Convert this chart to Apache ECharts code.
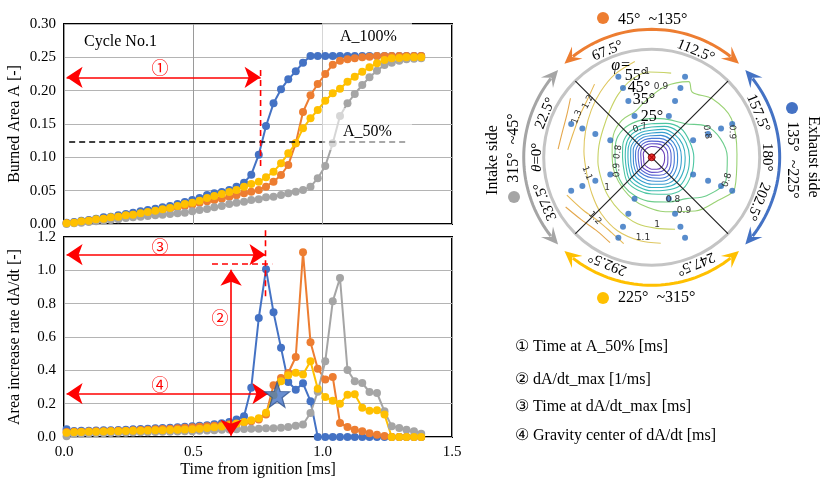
<!DOCTYPE html>
<html>
<head>
<meta charset="utf-8">
<script src="https://cdn.jsdelivr.net/npm/echarts@6/dist/echarts.min.js"></script>
<style>
html, body { margin: 0; padding: 0; background: #fff; }
#main { width: 820px; height: 480px; }
</style>
</head>
<body>
<div id="main"></div>
<script>
// sample times (ms)
var timeMs = [0.010,0.039,0.067,0.096,0.124,0.153,0.181,0.210,0.239,0.267,0.296,0.324,0.353,0.381,0.410,0.439,0.467,0.496,0.524,0.553,0.581,0.610,0.639,0.667,0.696,0.724,0.753,0.781,0.810,0.839,0.867,0.896,0.924,0.953,0.981,1.010,1.039,1.067,1.096,1.124,1.153,1.181,1.210,1.239,1.267,1.296,1.324,1.353,1.381];

// burned area A [-]
var areaBlue = [0.002,0.003,0.005,0.006,0.008,0.010,0.011,0.013,0.015,0.017,0.019,0.021,0.023,0.025,0.027,0.030,0.033,0.036,0.039,0.0435,0.046,0.048,0.051,0.056,0.062,0.074,0.104,0.147,0.181,0.202,0.217,0.229,0.242,0.252,0.252,0.252,0.252,0.252,0.252,0.252,0.252,0.252,0.252,0.252,0.252,0.252,0.252,0.252,0.252];
var areaOrange = [0.001,0.002,0.003,0.005,0.006,0.008,0.009,0.011,0.012,0.014,0.015,0.017,0.019,0.021,0.023,0.025,0.027,0.029,0.032,0.034,0.036,0.038,0.041,0.043,0.046,0.0485,0.051,0.056,0.0635,0.0735,0.0885,0.121,0.168,0.193,0.210,0.225,0.239,0.245,0.247,0.2485,0.250,0.251,0.252,0.252,0.252,0.252,0.252,0.252,0.252];
var areaGray = [0.000,0.001,0.002,0.003,0.004,0.005,0.006,0.007,0.009,0.010,0.011,0.012,0.013,0.014,0.015,0.016,0.017,0.019,0.021,0.0225,0.025,0.027,0.030,0.032,0.0335,0.036,0.037,0.040,0.041,0.0435,0.046,0.0485,0.051,0.056,0.0685,0.087,0.121,0.162,0.181,0.195,0.2085,0.220,0.230,0.2385,0.242,0.245,0.247,0.248,0.2485];
var areaYellow = [0.001,0.002,0.004,0.005,0.007,0.008,0.010,0.011,0.013,0.014,0.016,0.018,0.020,0.022,0.024,0.027,0.030,0.032,0.035,0.039,0.042,0.045,0.048,0.051,0.056,0.060,0.0635,0.070,0.0785,0.091,0.106,0.121,0.1435,0.1585,0.171,0.185,0.196,0.203,0.2135,0.221,0.2285,0.235,0.241,0.246,0.2485,0.249,0.250,0.250,0.250];

// area increase rate dA/dt [-]
var rateBlue = [0.046,0.036,0.037,0.038,0.039,0.040,0.041,0.042,0.044,0.046,0.048,0.050,0.052,0.054,0.056,0.058,0.061,0.064,0.067,0.071,0.076,0.082,0.090,0.105,0.125,0.295,0.714,1.006,0.748,0.535,0.330,0.284,0.322,0.215,0,0,0,0,0,0,0,0,0,0,0,0,0,0,0];
var rateOrange = [0.030,0.031,0.032,0.033,0.034,0.035,0.036,0.037,0.038,0.040,0.042,0.044,0.046,0.048,0.050,0.052,0.055,0.058,0.061,0.064,0.067,0.071,0.076,0.081,0.087,0.094,0.105,0.135,0.310,0.354,0.384,0.480,1.108,0.568,0.410,0.345,0.360,0.084,0.060,0.044,0.034,0.022,0.014,0.006,0,0,0,0,0];
var rateGray = [0.005,0.018,0.020,0.021,0.022,0.023,0.024,0.025,0.026,0.027,0.028,0.029,0.030,0.031,0.032,0.033,0.034,0.035,0.037,0.039,0.041,0.043,0.045,0.047,0.048,0.049,0.050,0.052,0.053,0.055,0.060,0.068,0.075,0.144,0.272,0.454,0.814,0.954,0.402,0.334,0.324,0.270,0.264,0.154,0.064,0.054,0.044,0.034,0.020];
var rateYellow = [0.025,0.028,0.030,0.031,0.032,0.033,0.034,0.035,0.036,0.037,0.038,0.039,0.040,0.041,0.042,0.043,0.045,0.047,0.050,0.054,0.058,0.063,0.070,0.080,0.090,0.100,0.112,0.145,0.250,0.335,0.370,0.385,0.375,0.455,0.290,0.240,0.218,0.200,0.254,0.256,0.175,0.158,0.160,0.135,0,0,0,0,0];

// annotations (data coordinates)
var arrowTime50 = [[0.01, 0.22], [0.76, 0.22]];
var dashTime50 = [[0.76, 0.231], [0.76, 0.084]];
var lineA50 = [[0.02, 0.123], [1.33, 0.123]];
var arrowTimeMax = [[0.01, 1.094], [0.779, 1.094]];
var dashTimeMax = [[0.779, 1.24], [0.779, 0.832]];
var dashRateMax = [[0.572, 1.038], [0.805, 1.038]];
var arrowRateMax = [[0.646, 1.004], [0.646, 0.008]];
var arrowGravity = [[0.01, 0.26], [0.79, 0.26]];
var gravityPoint = [0.824, 0.254];

// polar diagram: measurement points (radius as fraction of circle), angles theta
var dotRadius = [0.415, 0.565, 0.695, 0.807];   // phi = 25, 35, 45, 55 deg
var dotTheta = [22.5, 67.5, 112.5, 157.5, 202.5, 247.5, 292.5, 337.5];
var arcRanges = [[45, 135], [135, 225], [225, 315], [315, 405]];
var angleLabelTheta = [0, 22.5, 67.5, 112.5, 157.5, 180, 202.5, 247.5, 292.5, 337.5];
var angleLabelText = ['{it|θ}=0°', '22.5°', '67.5°', '112.5°', '157.5°', '180°', '202.5°', '247.5°', '292.5°', '337.5°'];

// contour lines: inner closed contours sampled every 22.5 deg
var contourTheta = [0,22.5,45,67.5,90,112.5,135,157.5,180,202.5,225,247.5,270,292.5,315,337.5];
var c030 = [0.075,0.085,0.09,0.095,0.1,0.105,0.115,0.12,0.12,0.125,0.13,0.12,0.11,0.1,0.095,0.08];
var c035 = [0.1,0.11,0.12,0.125,0.125,0.135,0.15,0.155,0.15,0.16,0.165,0.15,0.14,0.13,0.125,0.105];
var c040 = [0.125,0.135,0.145,0.15,0.15,0.16,0.18,0.185,0.18,0.19,0.2,0.18,0.165,0.155,0.15,0.13];
var c045 = [0.15,0.16,0.17,0.175,0.175,0.19,0.21,0.215,0.21,0.22,0.23,0.21,0.19,0.18,0.175,0.155];
var c050 = [0.17,0.185,0.195,0.2,0.2,0.22,0.24,0.245,0.24,0.25,0.26,0.24,0.22,0.21,0.2,0.18];
var c055 = [0.195,0.21,0.22,0.225,0.225,0.25,0.27,0.275,0.275,0.285,0.295,0.27,0.25,0.24,0.23,0.205];
var c060 = [0.22,0.235,0.25,0.25,0.25,0.28,0.30,0.31,0.31,0.32,0.33,0.30,0.28,0.27,0.26,0.23];
var c065 = [0.245,0.26,0.28,0.28,0.28,0.31,0.34,0.345,0.35,0.36,0.37,0.33,0.31,0.30,0.29,0.255];
var c070 = [0.27,0.29,0.31,0.31,0.31,0.34,0.38,0.38,0.39,0.40,0.41,0.37,0.34,0.33,0.32,0.28];
// outer contours as [radius, theta]
var c080 = [[0.34,0],[0.36,22.5],[0.37,45],[0.36,67.5],[0.36,90],[0.38,112.5],[0.44,135],[0.58,150],[0.66,165],[0.70,180],[0.72,197],[0.62,215],[0.50,230],[0.44,250],[0.41,270],[0.39,292.5],[0.37,315],[0.35,337.5],[0.34,360]];
var c090 = [[0.37,8],[0.41,30],[0.44,51],[0.45,70],[0.52,83],[0.67,101],[0.78,116],[0.71,122],[0.78,136],[0.82,154],[0.79,178],[0.82,200],[0.72,215],[0.64,231],[0.52,256],[0.45,282],[0.41,302],[0.38,324],[0.37,344],[0.37,368]];
var c100 = [[0.80,103],[0.79,88],[0.74,75],[0.66,62],[0.58,48],[0.52,30],[0.50,12],[0.50,355],[0.51,335],[0.54,318],[0.58,300],[0.63,282],[0.66,266],[0.70,252]];
var c110 = [[0.90,80],[0.84,66],[0.77,52],[0.71,38],[0.66,22],[0.63,5],[0.62,346],[0.65,328],[0.70,312],[0.75,295],[0.78,278],[0.80,264]];
var c120a = [[0.86,52],[0.80,42],[0.77,30],[0.76,17],[0.78,5]];
var c120b = [[0.86,336],[0.80,322],[0.77,311],[0.79,298],[0.84,288]];
var c130a = [[0.93,36],[0.88,27],[0.86,16],[0.87,5]];
var c130b = [[0.92,330],[0.87,318],[0.85,306],[0.88,296]];

var serif = '"Liberation Serif", "Times New Roman", serif';
var cjk = '"Noto Sans CJK JP", sans-serif';
var seriesColors = ['#4472C4', '#ED7D31', '#A5A5A5', '#FFC000'];
var arcColors = ['#ED7D31', '#4472C4', '#FFC000', '#A5A5A5'];
var arcR = 1.185;
var labelR = 1.065;

function pairs(ys) {
	return timeMs.map(function(t, i) { return [t, ys[i]]; });
}

function curve(k, ys, g) {
	return {
		type: 'line', xAxisIndex: g, yAxisIndex: g, data: pairs(ys),
		symbol: 'circle', symbolSize: 8, showAllSymbol: true, z: 3,
		lineStyle: { color: seriesColors[k], width: 2 },
		itemStyle: { color: seriesColors[k], borderWidth: 0 }
	};
}

//double arrows on a grid
function arrows(g, lines) {
	return {
		type: 'line', xAxisIndex: g, yAxisIndex: g, data: [], clip: false, silent: true, z: 6,
		markLine: {
			silent: true, animation: false,
			symbol: ['arrow', 'arrow'],
			symbolSize: 16,
			label: { show: false },
			lineStyle: { color: '#ff0000', width: 1.6, type: 'solid' },
			data: lines.map(function(l) { return [{ coord: l[0] }, { coord: l[1] }]; })
		}
	};
}

//dashed guide line (may reach outside the plot)
function dashed(g, pts, color) {
	return {
		type: 'line', xAxisIndex: g, yAxisIndex: g, data: pts, symbol: 'none',
		clip: false, silent: true, z: 6,
		lineStyle: { color: color || '#ff0000', width: 1.6, type: [6, 4] }
	};
}

function polarLine(data, color, width, closed) {
	return {
		type: 'line', coordinateSystem: 'polar', polarIndex: 0, data: data,
		symbol: 'none', smooth: closed ? 0.35 : 0.3, silent: true, clip: false, z: 2,
		lineStyle: { color: color, width: width || 1.1 }
	};
}

function closedContour(radii, color) {
	var d = radii.map(function(r, k) { return [r, contourTheta[k]]; });
	d.push([radii[0], 360]);
	return polarLine(d, color, 1.1, true);
}

var series = [];
[areaBlue, areaOrange, areaGray, areaYellow].forEach(function(ys, k) { series.push(curve(k, ys, 0)); });
[rateBlue, rateOrange, rateGray, rateYellow].forEach(function(ys, k) { series.push(curve(k, ys, 1)); });

series.push(dashed(0, lineA50, '#000'));
series.push(arrows(0, [arrowTime50]));
series.push(dashed(0, dashTime50));
series.push(arrows(1, [arrowTimeMax, arrowRateMax, arrowGravity]));
series.push(dashed(1, dashTimeMax));
series.push(dashed(1, dashRateMax));
series.push({
	type: 'scatter', xAxisIndex: 1, yAxisIndex: 1, data: [gravityPoint], z: 8,
	symbol: 'path://M0,-10L2.35,-3.24L9.51,-3.09L3.8,1.24L5.88,8.09L0,4L-5.88,8.09L-3.8,1.24L-9.51,-3.09L-2.35,-3.24Z',
	symbolSize: 25,
	itemStyle: { color: '#4472C4', borderColor: '#2F528F', borderWidth: 1.2 }
});

// contours
[[c030,'#6a3fb8'],[c035,'#6150c8'],[c040,'#5563d3'],[c045,'#4878d6'],[c050,'#3d8cd4'],
 [c055,'#379fcd'],[c060,'#36afc2'],[c065,'#3dbcb3'],[c070,'#4cc6a2']].forEach(function(c) {
	series.push(closedContour(c[0], c[1]));
});
series.push(polarLine(c080, '#6ccd8c', 1.1, true));
series.push(polarLine(c090, '#9bd274', 1.1, true));
series.push(polarLine(c100, '#c7d265'));
series.push(polarLine(c110, '#dfc760'));
series.push(polarLine(c120a, '#e6b955'));
series.push(polarLine(c120b, '#e6b955'));
series.push(polarLine(c130a, '#e4a74c'));
series.push(polarLine(c130b, '#e4a74c'));

// cross lines
series.push({ type: 'line', coordinateSystem: 'polar', polarIndex: 0, data: [[1.28, 45], [0, 0], [1.28, 225]], symbol: 'none', clip: false, silent: true, z: 5, lineStyle: { color: '#222', width: 1.2 } });
series.push({ type: 'line', coordinateSystem: 'polar', polarIndex: 0, data: [[1.28, 135], [0, 0], [1.28, 315]], symbol: 'none', clip: false, silent: true, z: 5, lineStyle: { color: '#222', width: 1.2 } });

// measurement points
var dots = [];
dotTheta.forEach(function(th) { dotRadius.forEach(function(r) { dots.push([r, th]); }); });
series.push({ type: 'scatter', coordinateSystem: 'polar', polarIndex: 0, data: dots, symbolSize: 6, z: 6, itemStyle: { color: '#2e6fbf' } });
series.push({ type: 'scatter', coordinateSystem: 'polar', polarIndex: 0, data: [[0, 0]], symbolSize: 7, z: 7, itemStyle: { color: '#e00000', borderColor: '#700', borderWidth: 1 } });

// range arcs with arrow heads
series.push({
	type: 'custom', coordinateSystem: 'polar', polarIndex: 0, data: arcRanges, silent: true, z: 4,
	renderItem: function(params, api) {
		var a0 = api.value(0) + 2, a1 = api.value(1) - 2;
		var color = arcColors[params.dataIndex];
		var pts = [];
		for (var a = a0 + 5; a < a1 - 5; a += 2) pts.push(api.coord([arcR, a]));
		pts.push(api.coord([arcR, a1 - 5]));
		function head(tipA, backA) {
			var tip = api.coord([arcR, tipA]), back = api.coord([arcR, backA]);
			var dx = tip[0] - back[0], dy = tip[1] - back[1];
			var len = Math.sqrt(dx * dx + dy * dy);
			var ux = dx / len, uy = dy / len, nx = -uy, ny = ux;
			var L = 17, W = 8;
			return {
				type: 'polygon',
				shape: { points: [tip,
					[tip[0] - ux * L + nx * W, tip[1] - uy * L + ny * W],
					[tip[0] - ux * L * 0.6, tip[1] - uy * L * 0.6],
					[tip[0] - ux * L - nx * W, tip[1] - uy * L - ny * W]] },
				style: { fill: color }
			};
		}
		return {
			type: 'group',
			children: [
				{ type: 'polyline', shape: { points: pts }, style: { stroke: color, lineWidth: 3, fill: null } },
				head(a0, a0 + 4), head(a1, a1 - 4)
			]
		};
	}
});

// tangential angle labels
series.push({
	type: 'custom', coordinateSystem: 'polar', polarIndex: 0, silent: true, z: 9,
	data: angleLabelTheta.map(function(t) { return [labelR, t]; }),
	renderItem: function(params, api) {
		var th = api.value(1);
		var p = api.coord([api.value(0), th]);
		return {
			type: 'text', x: p[0], y: p[1], rotation: (90 - th) * Math.PI / 180,
			style: {
				text: angleLabelText[params.dataIndex], font: '15px ' + serif, fill: '#000',
				align: 'center', verticalAlign: 'middle', textAlign: 'center', textVerticalAlign: 'middle',
				rich: { it: { fontStyle: 'italic', fontSize: 15, fontFamily: serif } }
			}
		};
	}
});

function txt(x, y, s, o) {
	o = o || {};
	return {
		type: 'text', x: x, y: y, rotation: o.rot || 0, z: 20,
		style: {
			text: s, font: (o.italic ? 'italic ' : '') + (o.size || 15) + 'px ' + (o.family || serif),
			fill: o.color || '#000', align: o.align || 'left', verticalAlign: 'middle',
			textAlign: o.align || 'left', textVerticalAlign: 'middle', rich: o.rich
		}
	};
}
function dot(x, y, c) {
	return { type: 'circle', shape: { cx: x, cy: y, r: 6 }, style: { fill: c }, z: 20 };
}
function clabel(x, y, s, rot) {
	return txt(x, y, s, { size: 9, color: '#333', align: 'center', family: '"DejaVu Sans"', rot: rot || 0 });
}

var graphics = [
	// translucent text boxes over the top chart
	{ type: 'rect', shape: { x: 322, y: 20, width: 90, height: 30 }, style: { fill: 'rgba(255,255,255,0.6)' }, z: 10 },
	{ type: 'rect', shape: { x: 322, y: 108, width: 90, height: 42 }, style: { fill: 'rgba(255,255,255,0.55)' }, z: 10 },
	txt(84, 42, 'Cycle No.1', { size: 16 }),
	txt(340, 37, 'A_100%', { size: 16 }),
	txt(343, 132, 'A_50%', { size: 16 }),
	txt(160, 68, '①', { size: 17, family: cjk, color: '#ff0000', align: 'center' }),
	txt(160, 247, '③', { size: 17, family: cjk, color: '#ff0000', align: 'center' }),
	txt(220, 318, '②', { size: 17, family: cjk, color: '#ff0000', align: 'center' }),
	txt(160, 385, '④', { size: 17, family: cjk, color: '#ff0000', align: 'center' }),
	// key
	txt(515, 347, '① Time at A_50% [ms]', { size: 16 }),
	txt(515, 380, '② dA/dt_max [1/ms]', { size: 16 }),
	txt(515, 407, '③ Time at dA/dt_max [ms]', { size: 16 }),
	txt(515, 436, '④ Gravity center of dA/dt [ms]', { size: 16 }),
	// range markers
	dot(603, 18, '#ED7D31'), txt(618, 20, '45°  ~135°', { size: 16 }),
	dot(603, 298, '#FFC000'), txt(618, 298, '225°  ~315°', { size: 16 }),
	dot(792, 108, '#4472C4'), txt(792, 160, '135°  ~225°', { size: 16, rot: -Math.PI / 2, align: 'center' }),
	txt(813, 157, 'Exhaust side', { size: 16, rot: -Math.PI / 2, align: 'center' }),
	dot(514, 197, '#A5A5A5'), txt(514, 148, '315°  ~45°', { size: 16, rot: Math.PI / 2, align: 'center' }),
	txt(493, 160, 'Intake side', { size: 16, rot: Math.PI / 2, align: 'center' }),
	// phi labels
	txt(621, 66, 'φ=', { size: 16, italic: true, align: 'center' }),
	txt(636, 76, '55°', { size: 16, align: 'center' }),
	txt(639, 88, '45°', { size: 16, align: 'center' }),
	txt(644, 100, '35°', { size: 16, align: 'center' }),
	txt(652, 117, '25°', { size: 16, align: 'center' }),
	// contour labels
	clabel(647, 72, '1'), clabel(661, 87, '0.9'),
	clabel(588, 102, '1.2', 1.1), clabel(577, 117, '1.3', 1.2),
	clabel(640, 128, '0.7', 0.3), clabel(618, 152, '0.8', 1.4), clabel(617, 170, '0.9', 1.57),
	clabel(707, 132, '0.8', -1.4), clabel(732, 132, '0.9', -1.57), clabel(727, 180, '0.8', 1.3),
	clabel(673, 200, '0.8'), clabel(684, 211, '0.9'), clabel(607, 188, '1'), clabel(657, 225, '1'),
	clabel(643, 238, '1.1'), clabel(587, 173, '1.1', -1.2), clabel(595, 218, '1.2', -0.8)
];

var axisFont = { fontFamily: serif, fontSize: 15, color: '#000' };
var option = {
	animation: false,
	backgroundColor: '#fff',
	grid: [
		{ left: 64, top: 24, width: 388, height: 200, show: true, borderColor: '#000', borderWidth: 2, backgroundColor: 'transparent' },
		{ left: 64, top: 237, width: 388, height: 200, show: true, borderColor: '#000', borderWidth: 2, backgroundColor: 'transparent' }
	],
	xAxis: [
		{ gridIndex: 0, type: 'value', min: 0, max: 1.5, interval: 0.5, axisLine: { show: false }, axisTick: { show: false }, axisLabel: { show: false }, splitLine: { lineStyle: { color: '#9a9a9a', width: 1 } } },
		{ gridIndex: 1, type: 'value', min: 0, max: 1.5, interval: 0.5, axisLine: { show: false }, axisTick: { show: false },
			axisLabel: Object.assign({ margin: 8, formatter: function(v) { return v.toFixed(1); } }, axisFont),
			splitLine: { lineStyle: { color: '#9a9a9a', width: 1 } },
			name: 'Time from ignition [ms]', nameLocation: 'middle', nameGap: 25, nameTextStyle: { fontFamily: serif, fontSize: 16, color: '#000' } }
	],
	yAxis: [
		{ gridIndex: 0, type: 'value', min: 0, max: 0.3, interval: 0.05, axisLine: { show: false }, axisTick: { show: false },
			axisLabel: Object.assign({ margin: 8, formatter: function(v) { return v.toFixed(2); } }, axisFont),
			splitLine: { lineStyle: { color: '#b4b4b4', width: 1 } },
			name: 'Burned Area A [-]', nameLocation: 'middle', nameGap: 41, nameTextStyle: { fontFamily: serif, fontSize: 16, color: '#000' } },
		{ gridIndex: 1, type: 'value', min: 0, max: 1.2, interval: 0.2, axisLine: { show: false }, axisTick: { show: false },
			axisLabel: Object.assign({ margin: 8, formatter: function(v) { return v.toFixed(1); } }, axisFont),
			splitLine: { lineStyle: { color: '#b4b4b4', width: 1 } },
			name: 'Area increase rate dA/dt [-]', nameLocation: 'middle', nameGap: 41, nameTextStyle: { fontFamily: serif, fontSize: 16, color: '#000' } }
	],
	polar: [{ center: [651.7, 157.3], radius: 108 }],
	angleAxis: [{ polarIndex: 0, type: 'value', min: 0, max: 360, startAngle: 180, clockwise: true,
		axisLine: { lineStyle: { color: '#c4c4c4', width: 3 } }, axisTick: { show: false }, axisLabel: { show: false }, splitLine: { show: false } }],
	radiusAxis: [{ polarIndex: 0, type: 'value', min: 0, max: 1,
		axisLine: { show: false }, axisTick: { show: false }, axisLabel: { show: false }, splitLine: { show: false } }],
	series: series,
	graphic: { elements: graphics }
};

var chart = echarts.init(document.getElementById('main'));
chart.setOption(option);
</script>
</body>
</html>
